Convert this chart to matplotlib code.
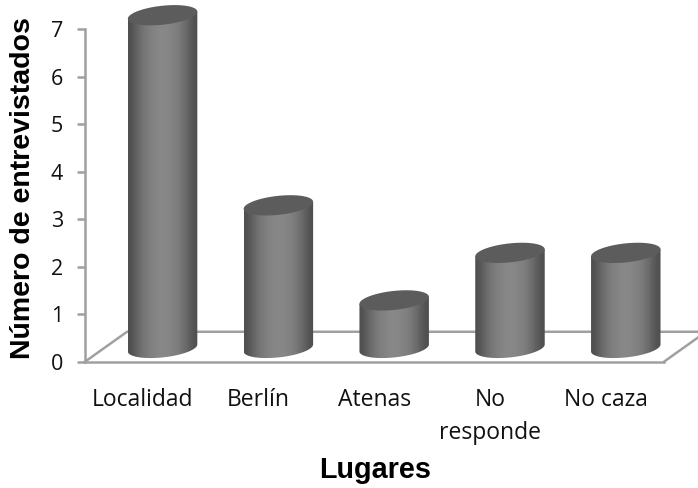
import numpy as np

import matplotlib
matplotlib.use("Agg")
import matplotlib.pyplot as plt   # noqa: E402
from matplotlib.patches import Polygon   # noqa: E402

lugares = ["Localidad", "Berlín", "Atenas", "No\nresponde", "No caza"]
entrevistados = [7, 3, 1, 2, 2]
yticks = [0, 1, 2, 3, 4, 5, 6, 7]

W, H = 698, 488
LINE = "#a0a0a0"

# depth of the fake 3-D floor, in data units
FLOOR_DX, FLOOR_DY = 0.363, 0.63
BAR_DX, BAR_DY = 0.17, 0.29
# cylinder shape: half width, ellipse minor half axis, tilt
A, B, S = 0.30, 0.20, 0.074

fig = plt.figure(figsize=(W / 100, H / 100), dpi=100)
ax = fig.add_axes([85 / W, 1 - 361.7 / H, 579 / W, 332.7 / H])
ax.set_xlim(-0.5, 4.5)
ax.set_ylim(0, 7)

for side in ("top", "right"):
    ax.spines[side].set_visible(False)
for side in ("left", "bottom"):
    ax.spines[side].set_color(LINE)
    ax.spines[side].set_linewidth(1.8)
    ax.spines[side].set_zorder(1)

# floor
fx = [-0.5, -0.5 + FLOOR_DX, 4.5 + FLOOR_DX, 4.5]
fy = [0, FLOOR_DY, FLOOR_DY, 0]
ax.plot(fx, fy, color=LINE, lw=1.8, clip_on=False, zorder=1)

shade = np.array([0.31, 0.37, 0.43, 0.47, 0.50, 0.52, 0.53, 0.53, 0.52, 0.50, 0.47, 0.42, 0.36, 0.31])
t = np.linspace(0, 2 * np.pi, 120)
half = np.linspace(np.pi, 2 * np.pi, 60)

for i, v in enumerate(entrevistados):
    cx = i + BAR_DX
    base = BAR_DY
    top = BAR_DY + v

    # body: lower half of the base ellipse, then up to the lid
    bx = cx + A * np.cos(half)
    by = base + B * np.sin(half) + S * np.cos(half)
    tx = np.array([cx + A, cx - A])
    ty = np.array([top + S, top - S])
    body = Polygon(np.column_stack([np.r_[bx, tx], np.r_[by, ty]]), closed=True,
                   transform=ax.transData, fc="none", ec="none")
    ax.add_patch(body)
    im = ax.imshow(shade[np.newaxis, :], cmap="gray", vmin=0, vmax=1, aspect="auto",
                   extent=[cx - A, cx + A, base - 0.3, top + 0.2],
                   interpolation="bicubic", zorder=3)
    im.set_clip_box(fig.bbox)
    im.set_clip_path(body)

    # lid
    ax.fill(cx + A * np.cos(t), top + B * np.sin(t) + S * np.cos(t),
            color="#5c5c5c", lw=0, clip_on=False, zorder=4)

ax.set_xlim(-0.5, 4.5)
ax.set_ylim(0, 7)

ax.set_xticks(range(len(lugares)))
ax.set_xticklabels(lugares, fontsize=16.5, family="Open Sans", color="#111111", linespacing=1.5)
ax.set_yticks(yticks)
ax.set_yticklabels([str(y) for y in yticks], fontsize=15.5, family="Open Sans", color="#111111")
ax.tick_params(axis="x", length=0, pad=19)
ax.tick_params(axis="y", length=5.8, width=1.8, color=LINE, pad=10)

fig.text(375 / W, 1 - 470 / H, "Lugares", fontsize=20.7, fontweight="bold",
         family="Liberation Sans", ha="center", va="center")
fig.text(23 / W, 1 - 188 / H, "Número de entrevistados", fontsize=20.5, fontweight="bold",
         family="Liberation Sans", rotation=90, ha="center", va="center")

fig.savefig("out.png", dpi=100)
plt.close(fig)
